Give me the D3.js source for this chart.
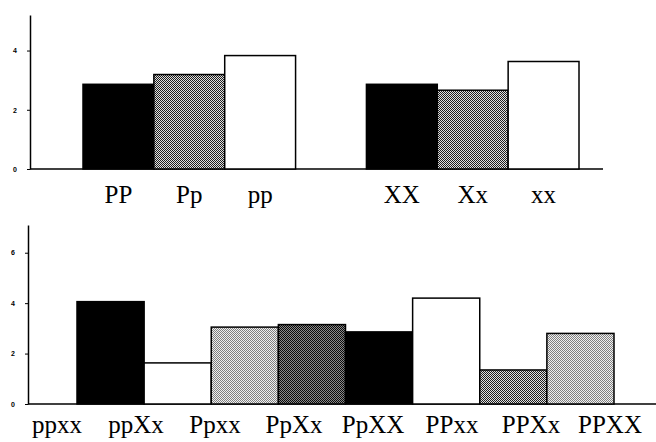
<!DOCTYPE html>
<html><head><meta charset="utf-8">
<script src="https://cdn.jsdelivr.net/npm/d3@7"></script>
<style>body{margin:0;background:#fff}svg{display:block}</style>
</head><body>
<svg id="c" width="656" height="442"></svg>
<script>
// ---- data ----
const topGroupP = ["PP", "Pp", "pp"];
const topGroupX = ["XX", "Xx", "xx"];
const topValuesP = [2.86, 3.19, 3.83];
const topValuesX = [2.86, 2.66, 3.63];
const topFillsP = ["black", "medium", "white"];
const topFillsX = ["black", "medium", "white"];
const topTicks = [0, 2, 4];

const bottomCats = ["ppxx", "ppXx", "Ppxx", "PpXx", "PpXX", "PPxx", "PPXx", "PPXX"];
const bottomValues = [4.06, 1.63, 3.05, 3.15, 2.86, 4.2, 1.35, 2.8];
const bottomFills = ["black", "white", "light", "dark", "black", "white", "medium", "light"];
const bottomTicks = [0, 2, 4, 6];

const svg = d3.select("#c");
const defs = svg.append("defs");
function checker(id, a, b) {
  const p = defs.append("pattern").attr("id", id).attr("patternUnits", "userSpaceOnUse")
    .attr("width", 2).attr("height", 2);
  p.append("rect").attr("width", 2).attr("height", 2).attr("fill", b);
  p.append("rect").attr("width", 1).attr("height", 1).attr("fill", a);
  p.append("rect").attr("x", 1).attr("y", 1).attr("width", 1).attr("height", 1).attr("fill", a);
}
checker("pMedium", "#1e1e1e", "#e0e0e0");
checker("pLight", "#808080", "#f0f0f0");
checker("pDark", "#0a0a0a", "#8a8a8a");
const fillMap = {black: "#000", white: "#fff", medium: "url(#pMedium)", light: "url(#pLight)", dark: "url(#pDark)"};

function drawAxis(g, y, ticks, x0) {
  const ax = d3.axisLeft(y).tickValues(ticks).tickFormat(d3.format("d"))
    .tickSize(3).tickSizeOuter(0).tickPadding(10);
  const a = g.append("g").attr("transform", `translate(${x0},0)`).call(ax);
  a.select(".domain").attr("stroke", "#000").attr("stroke-width", 1.5);
  a.selectAll(".tick line").attr("stroke", "#000").attr("stroke-width", 1);
  a.selectAll(".tick text").attr("font-family", "Liberation Sans, Arial, sans-serif")
    .attr("font-size", 7).attr("font-weight", "bold").attr("fill", "#000");
}

// ---- top chart ----
{
  const g = svg.append("g");
  const domain = [...topGroupP, "_gap", ...topGroupX];
  const x = d3.scaleBand().domain(domain).range([83, 579]).paddingInner(0).paddingOuter(0);
  const y = d3.scaleLinear().domain([0, 5.2]).range([169, 15]);
  const data = topGroupP.map((c, i) => ({c, v: topValuesP[i], f: topFillsP[i]}))
    .concat(topGroupX.map((c, i) => ({c, v: topValuesX[i], f: topFillsX[i]})));
  g.append("line").attr("x1", 30).attr("x2", 603).attr("y1", y(0)).attr("y2", y(0))
    .attr("stroke", "#000").attr("stroke-width", 1.5);
  g.selectAll("rect.bar").data(data).join("rect").attr("class", "bar")
    .attr("x", d => x(d.c)).attr("width", x.bandwidth())
    .attr("y", d => y(d.v)).attr("height", d => y(0) - y(d.v))
    .attr("fill", d => fillMap[d.f]).attr("stroke", "#000").attr("stroke-width", 1.5);
  drawAxis(g, y, topTicks, 30);
  g.selectAll("text.lab").data(data).join("text").attr("class", "lab")
    .attr("x", d => x(d.c) + x.bandwidth() / 2).attr("y", 203)
    .attr("text-anchor", "middle").attr("font-family", "Liberation Serif, Times New Roman, serif")
    .attr("font-size", 25).attr("fill", "#000").text(d => d.c);
}

// ---- bottom chart ----
{
  const g = svg.append("g");
  const x = d3.scaleBand().domain(bottomCats).range([77, 614]).paddingInner(0).paddingOuter(0);
  const xl = d3.scalePoint().domain(bottomCats).range([57, 610]);
  const y = d3.scaleLinear().domain([0, 7.1]).range([404, 225]);
  const data = bottomCats.map((c, i) => ({c, v: bottomValues[i], f: bottomFills[i]}));
  g.append("line").attr("x1", 28).attr("x2", 656).attr("y1", y(0)).attr("y2", y(0))
    .attr("stroke", "#000").attr("stroke-width", 1.5);
  g.selectAll("rect.bar").data(data).join("rect").attr("class", "bar")
    .attr("x", d => x(d.c)).attr("width", x.bandwidth())
    .attr("y", d => y(d.v)).attr("height", d => y(0) - y(d.v))
    .attr("fill", d => fillMap[d.f]).attr("stroke", "#000").attr("stroke-width", 1.5);
  drawAxis(g, y, bottomTicks, 28);
  g.selectAll("text.lab").data(data).join("text").attr("class", "lab")
    .attr("x", d => xl(d.c)).attr("y", 433)
    .attr("text-anchor", "middle").attr("font-family", "Liberation Serif, Times New Roman, serif")
    .attr("font-size", 25).attr("fill", "#000").text(d => d.c);
}
</script>
</body></html>
